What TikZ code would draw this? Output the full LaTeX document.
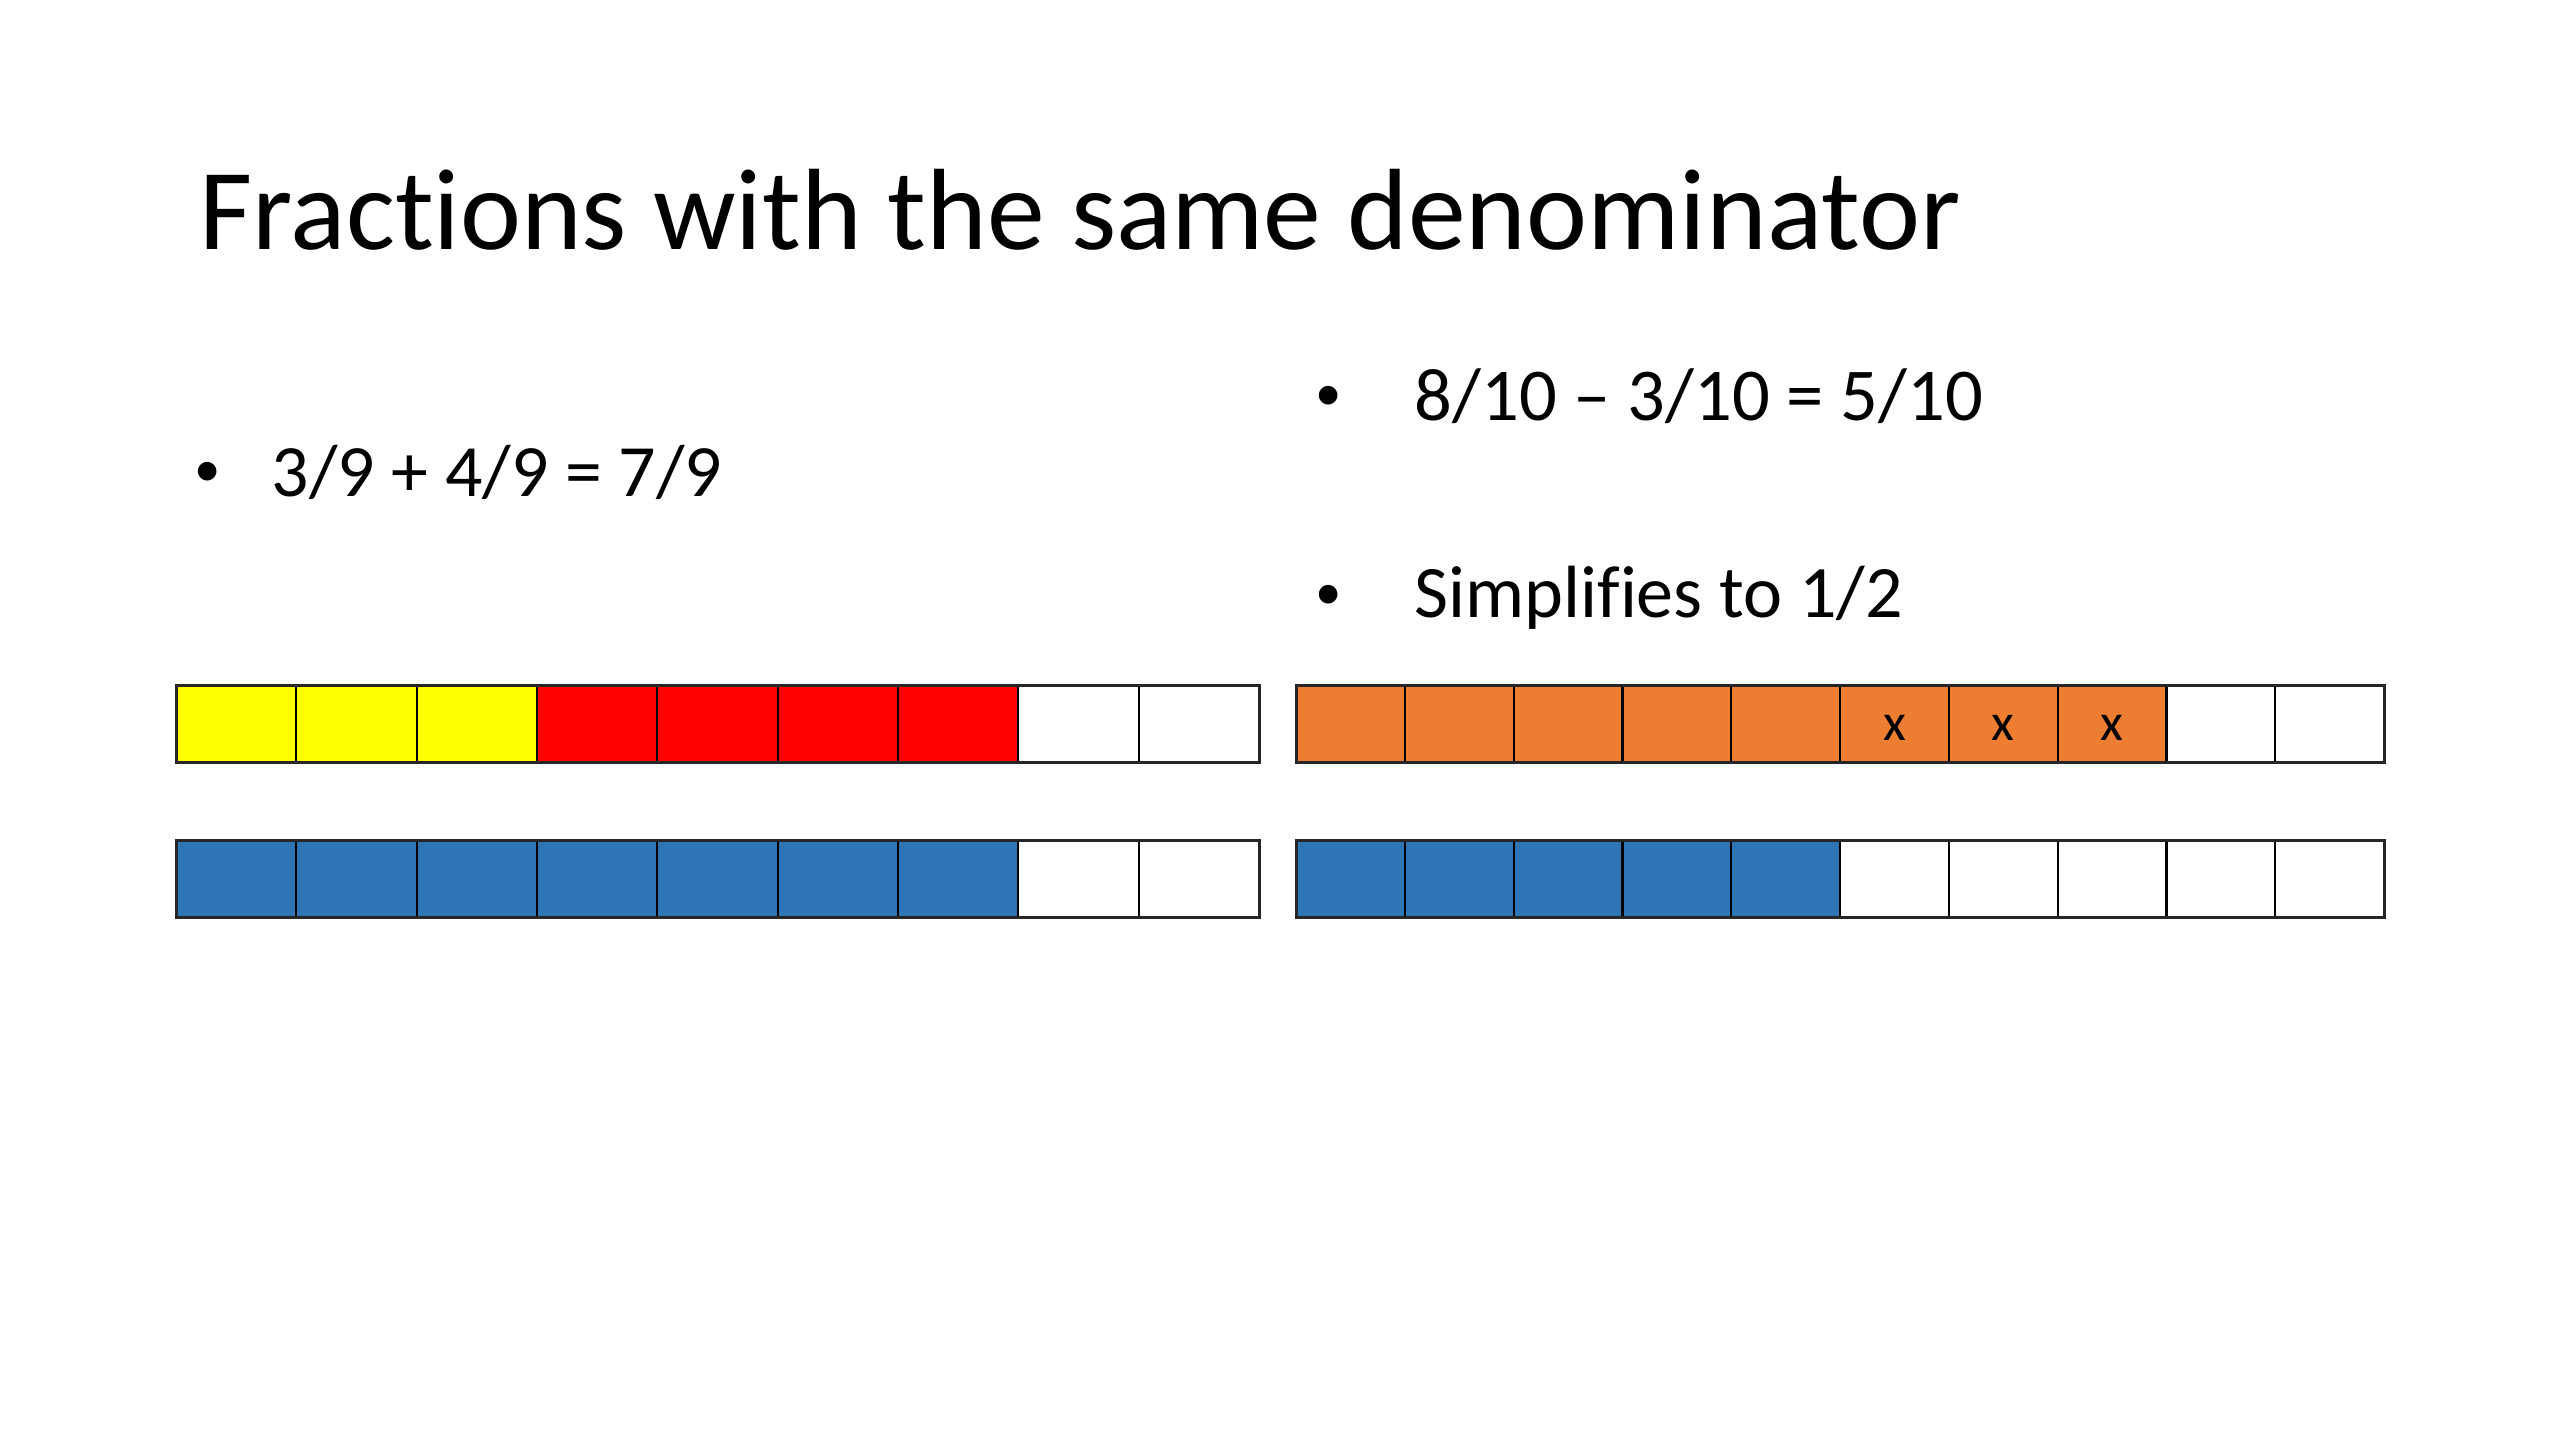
\documentclass[tikz,border=0pt]{standalone}
\usepackage{fontspec}
\setmainfont{Carlito}[Ligatures={CommonOff}]
\definecolor{yel}{RGB}{255,255,0}
\definecolor{redc}{RGB}{255,0,0}
\definecolor{blu}{RGB}{46,117,182}
\definecolor{ora}{RGB}{237,125,49}
\tikzset{
  cellA/.style={draw=black, line width=0.022cm, inner sep=0pt, outer sep=0pt,
    minimum width=1.2033cm, minimum height=0.76cm, anchor=north west},
  cellB/.style={draw=black, line width=0.022cm, inner sep=0pt, outer sep=0pt,
    minimum width=1.088cm, minimum height=0.76cm, anchor=north west},
  frame/.style={draw=black!85, line width=0.03cm},
  bul/.style={inner sep=0pt, font=\fontsize{15}{18}\selectfont},
  txt/.style={inner sep=0pt, anchor=base west, font=\fontsize{21}{25}\selectfont},
  xmark/.style={inner sep=0pt, font=\fontsize{15}{17}\selectfont}
}
\begin{document}
\begin{tikzpicture}[x=0.01cm,y=-0.01cm]
\useasboundingbox (0,0) rectangle (2560,1440);
\fill[white] (0,0) rectangle (2560,1440);

% title
\node[inner sep=0pt, anchor=base west, font=\fontsize{36}{40}\selectfont] (title) at (199,250)
  {\resizebox{17.6cm}{!}{Fractions with the same denominator}};

% bullets
\node[bul] (b1) at (208,474) {•};
\node[txt] (t1) at (271,497) {\resizebox{4.5cm}{!}{3/9 + 4/9 = 7/9}};
\node[bul] (b2) at (1329,398) {•};
\node[txt] (t2) at (1414,421) {\resizebox{5.68cm}{!}{8/10 – 3/10 = 5/10}};
\node[bul] (b3) at (1329,597) {•};
\node[txt] (t3) at (1414,618) {\resizebox{4.88cm}{!}{Simplifies to 1/2}};

% left top bar (9 parts)
\foreach \c [count=\i from 0] in {yel,yel,yel,redc,redc,redc,redc,white,white}
  \node[cellA, fill=\c] (LA\i) at ({176+\i*120.33},686) {};
\draw[frame] (LA0.north west) rectangle (LA8.south east);

% left bottom bar
\foreach \c [count=\i from 0] in {blu,blu,blu,blu,blu,blu,blu,white,white}
  \node[cellA, fill=\c] (LB\i) at ({176+\i*120.33},841) {};
\draw[frame] (LB0.north west) rectangle (LB8.south east);

% right top bar (10 parts)
\foreach \c [count=\i from 0] in {ora,ora,ora,ora,ora,ora,ora,ora,white,white}
  \node[cellB, fill=\c] (RA\i) at ({1296+\i*108.8},686) {};
\draw[frame] (RA0.north west) rectangle (RA9.south east);
\foreach \i in {5,6,7}
  \node[xmark] (X\i) at ([yshift=-0.04cm]RA\i.center) {x};

% right bottom bar
\foreach \c [count=\i from 0] in {blu,blu,blu,blu,blu,white,white,white,white,white}
  \node[cellB, fill=\c] (RB\i) at ({1296+\i*108.8},841) {};
\draw[frame] (RB0.north west) rectangle (RB9.south east);
\end{tikzpicture}
\end{document}
